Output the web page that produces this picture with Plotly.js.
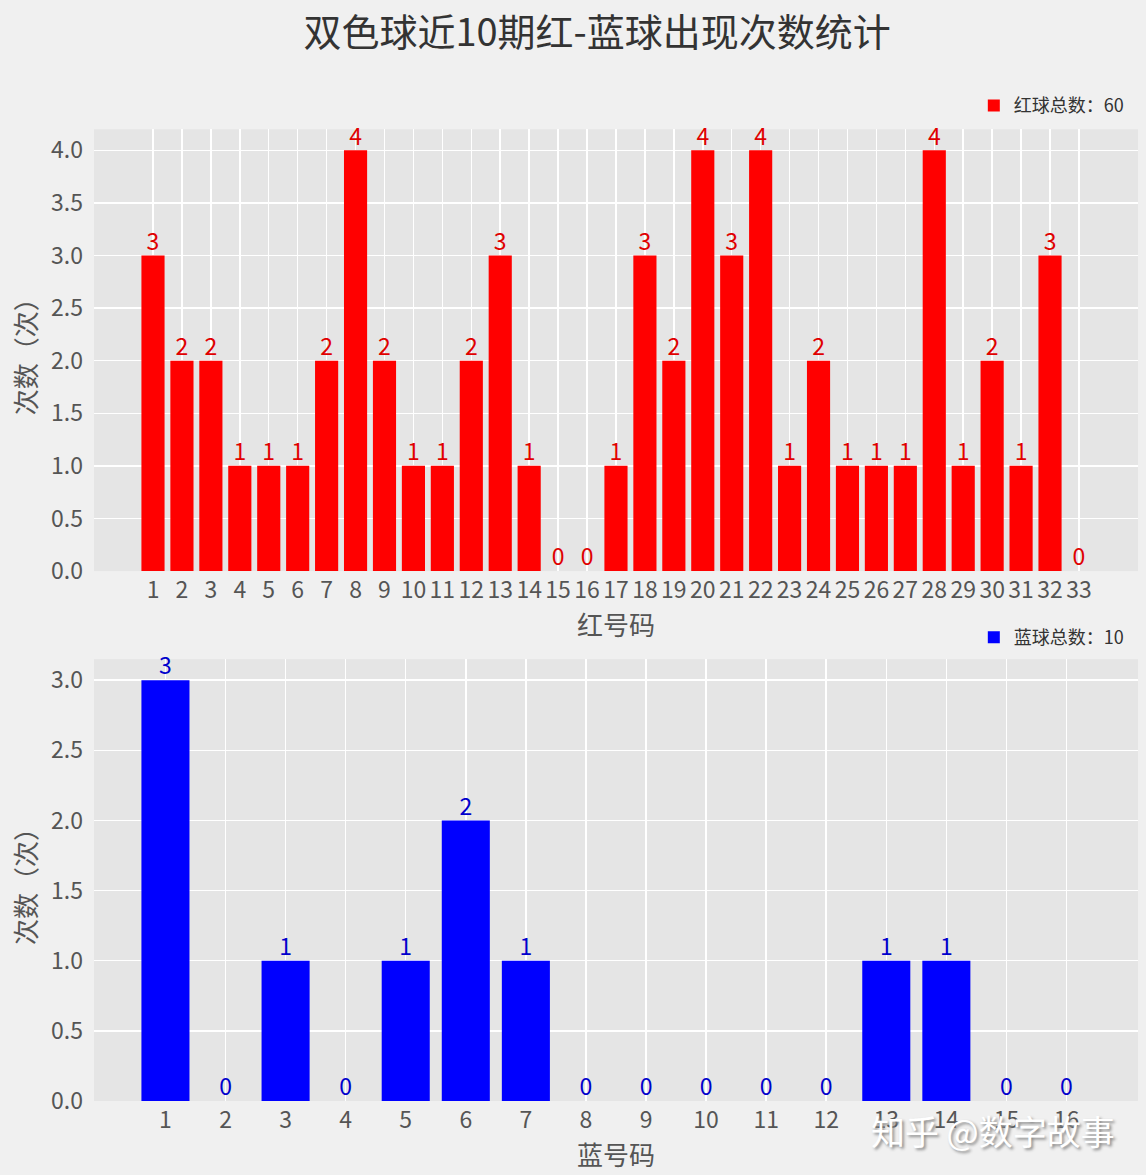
<!DOCTYPE html>
<html>
<head>
<meta charset="utf-8">
<script src="https://cdn.plot.ly/plotly-3.0.1.min.js"></script>
<style>
  html, body { margin: 0; padding: 0; background: #f0f0f0; }
  #chart { width: 1146px; height: 1175px; }
</style>
</head>
<body>
<div id="chart"></div>
<script>
// 红球号码与出现次数
const redBalls = Array.from({ length: 33 }, (_, i) => i + 1);
const redCounts = [3, 2, 2, 1, 1, 1, 2, 4, 2, 1, 1, 2, 3, 1, 0, 0, 1,
                   3, 2, 4, 3, 4, 1, 2, 1, 1, 1, 4, 1, 2, 1, 3, 0];

// 蓝球号码与出现次数
const blueBalls = Array.from({ length: 16 }, (_, i) => i + 1);
const blueCounts = [3, 0, 1, 0, 1, 2, 1, 0, 0, 0, 0, 0, 1, 1, 0, 0];

const redTotal = redCounts.reduce((a, b) => a + b, 0);
const blueTotal = blueCounts.reduce((a, b) => a + b, 0);

const FONT = '"Noto Sans CJK SC", "DejaVu Sans", sans-serif';
const TICK_COLOR = "#555555";

const traces = [
  {
    x: redBalls,
    y: redCounts,
    type: "bar",
    width: 0.8,
    name: `红球总数：${redTotal}`,
    marker: { color: "#ff0000" },
    xaxis: "x",
    yaxis: "y",
    legend: "legend",
  },
  {
    // 柱子上方的数字
    x: redBalls,
    y: redCounts,
    type: "scatter",
    mode: "text",
    text: redCounts.map(String),
    textposition: "top center",
    textfont: { family: FONT, size: 23, color: "#e00000" },
    showlegend: false,
    cliponaxis: false,
    xaxis: "x",
    yaxis: "y",
  },
  {
    x: blueBalls,
    y: blueCounts,
    type: "bar",
    width: 0.8,
    name: `蓝球总数：${blueTotal}`,
    marker: { color: "#0000ff" },
    xaxis: "x2",
    yaxis: "y2",
    legend: "legend2",
  },
  {
    x: blueBalls,
    y: blueCounts,
    type: "scatter",
    mode: "text",
    text: blueCounts.map(String),
    textposition: "top center",
    textfont: { family: FONT, size: 23, color: "#0000cc" },
    showlegend: false,
    cliponaxis: false,
    xaxis: "x2",
    yaxis: "y2",
  },
];

const commonX = {
  showgrid: true,
  gridcolor: "#ffffff",
  gridwidth: 1.5,
  zeroline: false,
  showline: false,
  ticks: "",
  ticklabelstandoff: 3,
  tickfont: { family: FONT, size: 23, color: TICK_COLOR },
  tickmode: "array",
};
const commonY = {
  showgrid: true,
  gridcolor: "#ffffff",
  gridwidth: 1.5,
  zeroline: false,
  showline: false,
  ticks: "",
  ticklabelstandoff: 10,
  tickformat: ".1f",
  dtick: 0.5,
  tickfont: { family: FONT, size: 23, color: TICK_COLOR },
};

const layout = {
  width: 1146,
  height: 1175,
  paper_bgcolor: "#f0f0f0",
  plot_bgcolor: "#e5e5e5",
  margin: { l: 0, r: 0, t: 0, b: 0 },
  showlegend: true,
  title: {
    text: "双色球近10期红-蓝球出现次数统计",
    font: { family: FONT, size: 38, color: "#333333" },
    x: 0.521,
    xanchor: "center",
    y: 0.972,
    yanchor: "middle",
  },
  xaxis: {
    ...commonX,
    domain: [0.082, 0.993],
    range: [-1.04, 35.04],
    tickvals: redBalls,
    ticktext: redBalls.map(String),
    anchor: "y",
    title: {
      text: "红号码",
      font: { family: FONT, size: 26, color: TICK_COLOR },
      standoff: 0,
    },
  },
  yaxis: {
    ...commonY,
    domain: [0.514, 0.890],
    range: [0, 4.2],
    anchor: "x",
    title: {
      text: "次数（次）",
      font: { family: FONT, size: 26, color: TICK_COLOR },
      standoff: 6,
    },
  },
  xaxis2: {
    ...commonX,
    domain: [0.082, 0.993],
    range: [-0.19, 17.19],
    tickvals: blueBalls,
    ticktext: blueBalls.map(String),
    anchor: "y2",
    title: {
      text: "蓝号码",
      font: { family: FONT, size: 26, color: TICK_COLOR },
      standoff: 0,
    },
  },
  yaxis2: {
    ...commonY,
    domain: [0.063, 0.439],
    range: [0, 3.15],
    anchor: "x2",
    title: {
      text: "次数（次）",
      font: { family: FONT, size: 26, color: TICK_COLOR },
      standoff: 6,
    },
  },
  legend: {
    x: 0.985,
    xanchor: "right",
    y: 0.91,
    yanchor: "middle",
    bgcolor: "rgba(0,0,0,0)",
    font: { family: FONT, size: 18, color: "#333333" },
  },
  legend2: {
    x: 0.985,
    xanchor: "right",
    y: 0.4575,
    yanchor: "middle",
    bgcolor: "rgba(0,0,0,0)",
    font: { family: FONT, size: 18, color: "#333333" },
  },
  annotations: [
    {
      // 水印
      text: "知乎 @数字故事",
      xref: "paper",
      yref: "paper",
      x: 0.975,
      y: 0.038,
      xanchor: "right",
      yanchor: "middle",
      showarrow: false,
      font: {
        family: FONT,
        size: 34,
        color: "#ffffff",
        shadow: "2px 2px 3px #888888",
      },
    },
  ],
};

Plotly.newPlot("chart", traces, layout, { displayModeBar: false, staticPlot: true });
</script>
</body>
</html>
